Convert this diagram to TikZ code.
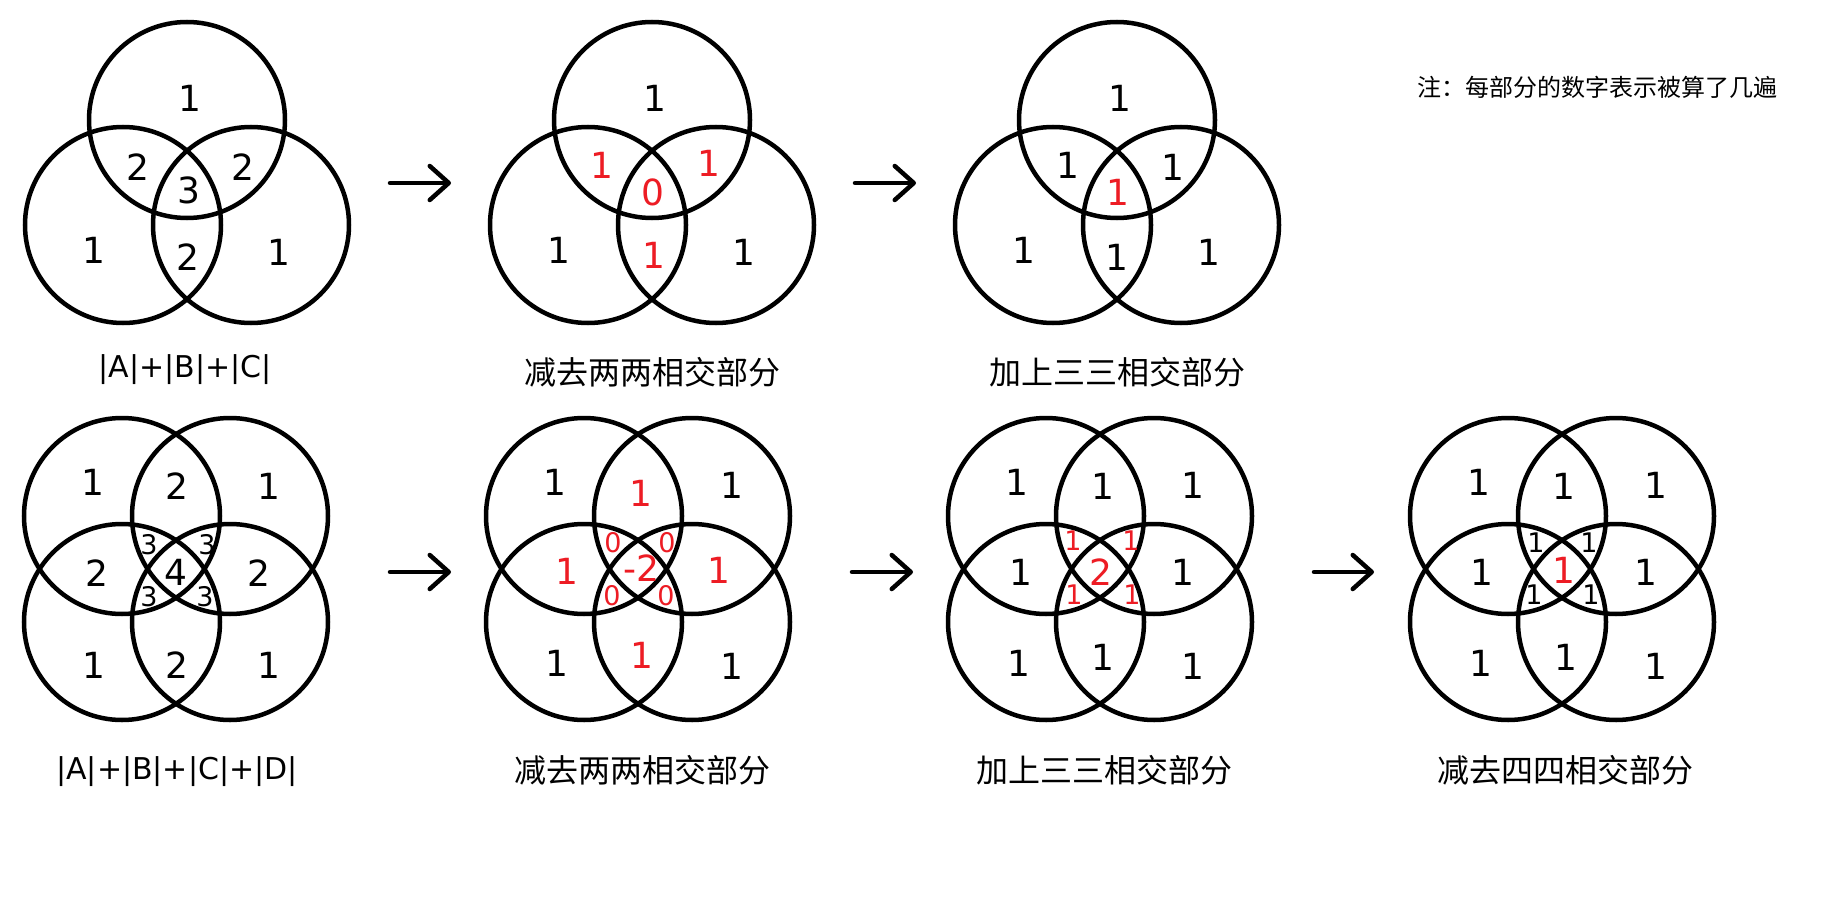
\documentclass[tikz,border=0pt]{standalone}
\usepackage{fontspec}
\setmainfont{Noto Sans CJK SC}
\newfontfamily\digitfont{DejaVu Sans}
\usetikzlibrary{arrows.meta}
\definecolor{pred}{RGB}{237,28,36}
\tikzset{
  ring/.style={draw=black, line width=2.25pt},
  num/.style={inner sep=0pt, anchor=center, font=\digitfont\fontsize{18}{18}\selectfont},
  snum/.style={inner sep=0pt, anchor=center, font=\digitfont\fontsize{13.5}{13.5}\selectfont},
  rd/.style={text=pred},
  captxt/.style={inner sep=0pt, anchor=center, font=\fontsize{16}{16}\selectfont},
  latcap/.style={inner sep=0pt, anchor=center, font=\digitfont\fontsize{15}{15}\selectfont},
  notetxt/.style={inner sep=0pt, anchor=center, font=\fontsize{12}{12}\selectfont},
  bigarrow/.style={line width=2.25pt, line cap=round, -{Straight Barb[length=9.5pt,width=17pt,round,line width=2.25pt]}}
}
\begin{document}
\begin{tikzpicture}[x=0.5pt,y=-0.5pt]
\useasboundingbox[fill=white] (0,0) rectangle (1848,904);

% ---------- top row circles ----------
\foreach \k in {0,1,2}{
  \draw[ring] (187+465*\k,120) circle[radius=49pt];
  \draw[ring] (123+465*\k,225) circle[radius=49pt];
  \draw[ring] (251+465*\k,225) circle[radius=49pt];
}
% ---------- bottom row circles ----------
\foreach \k in {0,1,2,3}{
  \draw[ring] (122+462*\k,516) circle[radius=49pt];
  \draw[ring] (230+462*\k,516) circle[radius=49pt];
  \draw[ring] (122+462*\k,622) circle[radius=49pt];
  \draw[ring] (230+462*\k,622) circle[radius=49pt];
}

% ---------- arrows ----------
\coordinate (a1s) at (390,183); \coordinate (a1e) at (451,183);
\coordinate (a2s) at (855,183); \coordinate (a2e) at (916,183);
\coordinate (a3s) at (390,572); \coordinate (a3e) at (451,572);
\coordinate (a4s) at (852,572); \coordinate (a4e) at (913,572);
\coordinate (a5s) at (1314,572); \coordinate (a5e) at (1374,572);
\draw[bigarrow] (a1s) -- (a1e);
\draw[bigarrow] (a2s) -- (a2e);
\draw[bigarrow] (a3s) -- (a3e);
\draw[bigarrow] (a4s) -- (a4e);
\draw[bigarrow] (a5s) -- (a5e);

% ---------- top panel 1 ----------
\node[num] (p1a) at (190,98) {1};
\node[num] (p1b) at (138,167) {2};
\node[num] (p1c) at (243,167) {2};
\node[num] (p1d) at (189,190) {3};
\node[num] (p1e) at (94,250) {1};
\node[num] (p1f) at (188,257) {2};
\node[num] (p1g) at (279,252) {1};
\node[latcap] (p1cap) at (185,370) {|A|+|B|+|C|};

% ---------- top panel 2 ----------
\node[num] (p2a) at (655,98) {1};
\node[num,rd] (p2b) at (602,165) {1};
\node[num,rd] (p2c) at (709,163) {1};
\node[num,rd] (p2d) at (653,192) {0};
\node[num] (p2e) at (559,250) {1};
\node[num,rd] (p2f) at (654,255) {1};
\node[num] (p2g) at (744,252) {1};
\node[captxt] (p2cap) at (652,372) {减去两两相交部分};

% ---------- top panel 3 ----------
\node[num] (p3a) at (1120,98) {1};
\node[num] (p3b) at (1068,165) {1};
\node[num] (p3c) at (1173,167) {1};
\node[num,rd] (p3d) at (1118,192) {1};
\node[num] (p3e) at (1024,250) {1};
\node[num] (p3f) at (1117,257) {1};
\node[num] (p3g) at (1209,252) {1};
\node[captxt] (p3cap) at (1117,372) {加上三三相交部分};

% ---------- note ----------
\node[notetxt] (nt) at (1597,87) {注：每部分的数字表示被算了几遍};

% ---------- bottom panel 1 ----------
\node[num] (q1a) at (93,482) {1};
\node[num] (q1b) at (177,486) {2};
\node[num] (q1c) at (269,486) {1};
\node[num] (q1d) at (97,573) {2};
\node[num] (q1e) at (176,572) {4};
\node[num] (q1f) at (259,573) {2};
\node[snum] (q1g) at (149,545) {3};
\node[snum] (q1h) at (207,545) {3};
\node[snum] (q1i) at (149,597) {3};
\node[snum] (q1j) at (205,597) {3};
\node[num] (q1k) at (94,665) {1};
\node[num] (q1l) at (177,665) {2};
\node[num] (q1m) at (269,665) {1};
\node[latcap] (q1cap) at (177,772) {|A|+|B|+|C|+|D|};

% ---------- bottom panel 2 ----------
\node[num] (q2a) at (555,482) {1};
\node[num,rd] (q2b) at (641,493) {1};
\node[num] (q2c) at (732,485) {1};
\node[num,rd] (q2d) at (567,571) {1};
\node[num,rd] (q2e) at (641,568) {-2};
\node[num,rd] (q2f) at (719,570) {1};
\node[snum,rd] (q2g) at (613,543) {0};
\node[snum,rd] (q2h) at (667,543) {0};
\node[snum,rd] (q2i) at (612,596) {0};
\node[snum,rd] (q2j) at (666,596) {0};
\node[num] (q2k) at (557,663) {1};
\node[num,rd] (q2l) at (642,655) {1};
\node[num] (q2m) at (732,666) {1};
\node[captxt] (q2cap) at (642,770) {减去两两相交部分};

% ---------- bottom panel 3 ----------
\node[num] (q3a) at (1017,482) {1};
\node[num] (q3b) at (1103,486) {1};
\node[num] (q3c) at (1193,485) {1};
\node[num] (q3d) at (1021,572) {1};
\node[num,rd] (q3e) at (1101,572) {2};
\node[num] (q3f) at (1183,572) {1};
\node[snum,rd] (q3g) at (1073,541) {1};
\node[snum,rd] (q3h) at (1131,541) {1};
\node[snum,rd] (q3i) at (1074,595) {1};
\node[snum,rd] (q3j) at (1132,595) {1};
\node[num] (q3k) at (1019,663) {1};
\node[num] (q3l) at (1103,657) {1};
\node[num] (q3m) at (1193,666) {1};
\node[captxt] (q3cap) at (1104,770) {加上三三相交部分};

% ---------- bottom panel 4 ----------
\node[num] (q4a) at (1479,482) {1};
\node[num] (q4b) at (1564,486) {1};
\node[num] (q4c) at (1656,485) {1};
\node[num] (q4d) at (1482,572) {1};
\node[num,rd] (q4e) at (1564,570) {1};
\node[num] (q4f) at (1646,572) {1};
\node[snum] (q4g) at (1536,543) {1};
\node[snum] (q4h) at (1589,543) {1};
\node[snum] (q4i) at (1534,595) {1};
\node[snum] (q4j) at (1591,595) {1};
\node[num] (q4k) at (1481,663) {1};
\node[num] (q4l) at (1566,657) {1};
\node[num] (q4m) at (1656,666) {1};
\node[captxt] (q4cap) at (1565,770) {减去四四相交部分};
\end{tikzpicture}
\end{document}
